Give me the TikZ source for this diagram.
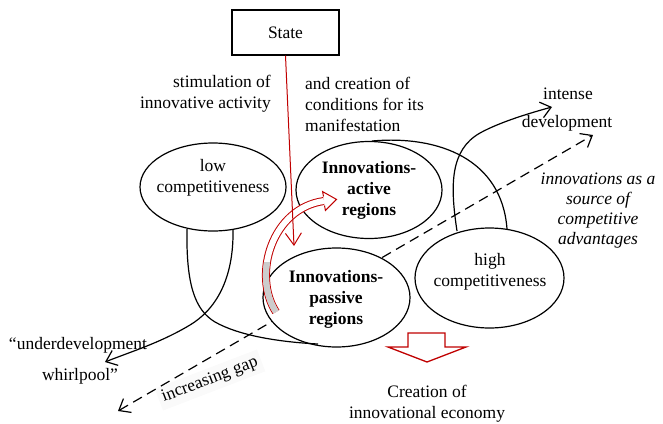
\documentclass[tikz,border=0pt]{standalone}
\usepackage{fontspec}
\setmainfont{Liberation Serif}
\usetikzlibrary{arrows.meta,shapes.geometric}
\definecolor{dred}{RGB}{192,0,0}
\begin{document}
\begin{tikzpicture}[x=1pt,y=-1pt,
  txt/.style={font=\fontsize{17.5}{21}\selectfont, inner sep=0pt, align=center},
  btxt/.style={font=\fontsize{17.5}{21}\selectfont\bfseries, inner sep=0pt, align=center},
  itxt/.style={font=\fontsize{17.5}{20}\selectfont\itshape, inner sep=0pt, align=center},
  ell/.style={ellipse, draw, line width=1.2pt, fill=white, inner sep=0pt},
  conn/.style={line width=1.2pt},
  barb/.style={-{Straight Barb[length=10pt,width=16pt]}},
  dashconn/.style={line width=1.2pt, dash pattern=on 10pt off 6pt,
    {Straight Barb[length=10pt,width=16pt]}-{Straight Barb[length=10pt,width=16pt]}}]
\useasboundingbox (0,0) rectangle (663,423);

% label with faint background and the dashed gap line
\node[txt, rotate=21, fill=black!2, inner sep=4pt] (gap) at (210,380) {increasing gap};
\coordinate (gapend) at (118,411);
\coordinate (devend) at (593,135);
\draw[dashconn] (gapend) -- (devend);

% ellipses
\node[ell, minimum width=146pt, minimum height=88pt] (low) at (213,187) {};
\node[ell, minimum width=146pt, minimum height=97pt] (act) at (369,190) {};
\node[ell, minimum width=147pt, minimum height=99pt] (pas) at (336.5,297.5) {};
\node[ell, minimum width=149pt, minimum height=100pt] (high) at (489.5,278) {};

\node[txt] (lowt) at (213,178) {low\\competitiveness};
\node[btxt] (actt) at (369,190) {Innovations-\\active\\regions};
\node[btxt] (past) at (336,299) {Innovations-\\passive\\regions};
\node[txt] (hight) at (490,272) {high\\competitiveness};

% state box
\node[draw, line width=1.3pt, minimum width=107pt, minimum height=45pt, txt] (state) at (285.5,32.5) {State};

% texts
\node[txt, align=right, anchor=east] (stim) at (271,94) {stimulation of\\innovative activity};
\node[txt, align=left, anchor=west] (cond) at (305,104) {and creation of\\conditions for its\\manifestation};
\node[txt] (ud1) at (78,345) {``underdevelopment};
\node[txt] (ud2) at (80,376) {whirlpool''};
\node[txt] (int1) at (568,94) {intense};
\node[txt] (int2) at (567,123) {development};
\node[itxt] (src) at (598,211) {innovations as a\\source of\\competitive\\advantages};
\node[txt] (econ) at (427,404) {Creation of\\innovational economy};

% black curves
\coordinate (lowA) at (187,229);
\coordinate (lowB) at (233,229);
\coordinate (pasB) at (318,344);
\coordinate (udtip) at (105,362);
\draw[conn] (lowA) .. controls (186,285) and (195,310) .. (215,322)
  .. controls (240,336) and (280,342) .. (pasB);
\draw[conn, barb] (lowB) .. controls (234,280) and (215,310) .. (190,325)
  .. controls (160,343) and (130,352) .. (udtip);

\coordinate (actT) at (372,141);
\coordinate (highA) at (507,229);
\coordinate (highB) at (457,231);
\coordinate (inttip) at (552,107);
\draw[conn] (actT) .. controls (440,135) and (502,160) .. (highA);
\draw[conn, barb] (highB) .. controls (450,185) and (450,150) .. (480,133)
  .. controls (500,122) and (530,113) .. (inttip);

% red curved band arrow (ribbon)
\coordinate (bandS) at (276,312);
\coordinate (bandE) at (324,201);
\draw[dred, line width=8pt] (bandS) .. controls (252,275) and (272,208) .. (bandE);
\draw[white, line width=6pt] (bandS) .. controls (252,275) and (272,208) .. (bandE);
\begin{scope}
  \clip (0,262) rectangle (663,423);
  \draw[gray!40, line width=6pt] (bandS) .. controls (252,275) and (272,208) .. (bandE);
\end{scope}
\fill[white] (323.5,196.5) -- (322.6,191.6) -- (336.5,199.4) -- (325.4,210.4) -- (324.5,205.5) -- cycle;
\draw[dred, line width=1pt, line join=miter] (323.5,196.5) -- (322.6,191.6) -- (336.5,199.4) -- (325.4,210.4) -- (324.5,205.5);

% red line from State
\coordinate (redtip) at (294,246);
\draw[dred, line width=1pt, -{Straight Barb[length=12pt,width=16pt]}] (state.south) -- (redtip);

% red block arrow
\draw[dred, line width=1.3pt, fill=white, line join=miter] (408,333) -- (445,333) -- (445,347) -- (466,347) -- (427,362) -- (388,347) -- (408,347) -- cycle;
\end{tikzpicture}
\end{document}
